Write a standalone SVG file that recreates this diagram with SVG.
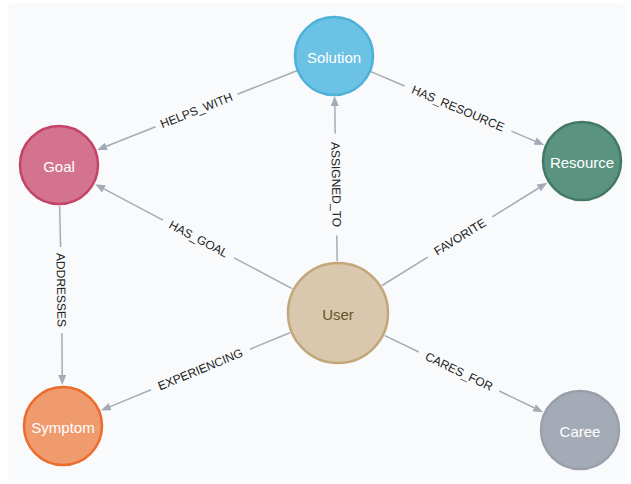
<svg xmlns="http://www.w3.org/2000/svg" width="631" height="484" viewBox="0 0 631 484">
<defs>
<marker id="arr" viewBox="0 0 10 8" refX="0" refY="4" markerWidth="10" markerHeight="8" markerUnits="userSpaceOnUse" orient="auto">
<path d="M0,0 L10,4 L0,8 z" fill="#a5abb6"/>
</marker>
<style>
.bg{fill:#f9fafb}
.edge{stroke:#a5abb6;stroke-width:1.5;fill:none}
.lbl{font-family:"Liberation Sans",Arial,sans-serif;font-size:12px;fill:#222;text-anchor:middle;dominant-baseline:central}
.node circle{stroke-width:2.5}
.node text{font-family:"Liberation Sans",Arial,sans-serif;font-size:15px;fill:#fff;text-anchor:middle;dominant-baseline:central}
</style>
</defs>
<rect class="bg" x="8" y="3" width="617" height="477" rx="3"/>
<g id="connectors">
<g id="e-helps">
<path class="edge" d="M296.8,70.7 L237.4,94.3"/>
<path class="edge" d="M155.6,126.7 L106.4,146.2" marker-end="url(#arr)"/>
<text class="lbl" transform="translate(196.5,110.5) rotate(-21.6)">HELPS_WITH</text>
</g>
<g id="e-hasres">
<path class="edge" d="M370.8,71.6 L404.6,86.0"/>
<path class="edge" d="M511.4,131.1 L535.0,141.1" marker-end="url(#arr)"/>
<text class="lbl" transform="translate(458,108.5) rotate(22.9)">HAS_RESOURCE</text>
</g>
<g id="e-assigned">
<path class="edge" d="M337.2,261 L336.8,235.5"/>
<path class="edge" d="M335.2,133.5 L334.8,106" marker-end="url(#arr)"/>
<text class="lbl" transform="translate(336,184.5) rotate(89.1)">ASSIGNED_TO</text>
</g>
<g id="e-hasgoal">
<path class="edge" d="M292.1,288.6 L234.1,257.9"/>
<path class="edge" d="M162.9,220.1 L104.0,188.9" marker-end="url(#arr)"/>
<text class="lbl" transform="translate(198.5,239) rotate(27.9)">HAS_GOAL</text>
</g>
<g id="e-favorite">
<path class="edge" d="M382.1,285.5 L427.7,257.1"/>
<path class="edge" d="M492.3,216.9 L538.7,188.0" marker-end="url(#arr)"/>
<text class="lbl" transform="translate(460,237) rotate(-31.9)">FAVORITE</text>
</g>
<g id="e-addresses">
<path class="edge" d="M59.6,206 L60.6,247"/>
<path class="edge" d="M61.9,333 L62.2,375" marker-end="url(#arr)"/>
<text class="lbl" transform="translate(61,290) rotate(89.1)">ADDRESSES</text>
</g>
<g id="e-experiencing">
<path class="edge" d="M289.9,332.8 L249.9,349.2"/>
<path class="edge" d="M151.1,389.8 L110.2,406.6" marker-end="url(#arr)"/>
<text class="lbl" transform="translate(200.5,369.5) rotate(-22.3)">EXPERIENCING</text>
</g>
<g id="e-cares">
<path class="edge" d="M384.8,335.6 L418.8,352.0"/>
<path class="edge" d="M499.2,391.0 L534.1,407.8" marker-end="url(#arr)"/>
<text class="lbl" transform="translate(459,371.5) rotate(25.8)">CARES_FOR</text>
</g>
</g>
<g id="solution" class="node">
<circle cx="334" cy="56" r="39" fill="#6cc2e4" stroke="#4fb1d8"/>
<text x="334" y="57">Solution</text>
</g>
<g id="goal" class="node">
<circle cx="59" cy="165" r="39" fill="#d3738f" stroke="#c44468"/>
<text x="59" y="166">Goal</text>
</g>
<g id="resource" class="node">
<circle cx="582" cy="161" r="39" fill="#5a9480" stroke="#437a66"/>
<text x="582" y="162">Resource</text>
</g>
<g id="user" class="node">
<circle cx="338" cy="313" r="50" fill="#d9c8ae" stroke="#c3a679"/>
<text x="338" y="314" style="fill:#66522a">User</text>
</g>
<g id="symptom" class="node">
<circle cx="63" cy="426" r="39" fill="#f09b6e" stroke="#ec6c2e"/>
<text x="63" y="427">Symptom</text>
</g>
<g id="caree" class="node">
<circle cx="580" cy="430" r="39" fill="#a5abb6" stroke="#9aa0ab"/>
<text x="580" y="431">Caree</text>
</g>
</svg>
